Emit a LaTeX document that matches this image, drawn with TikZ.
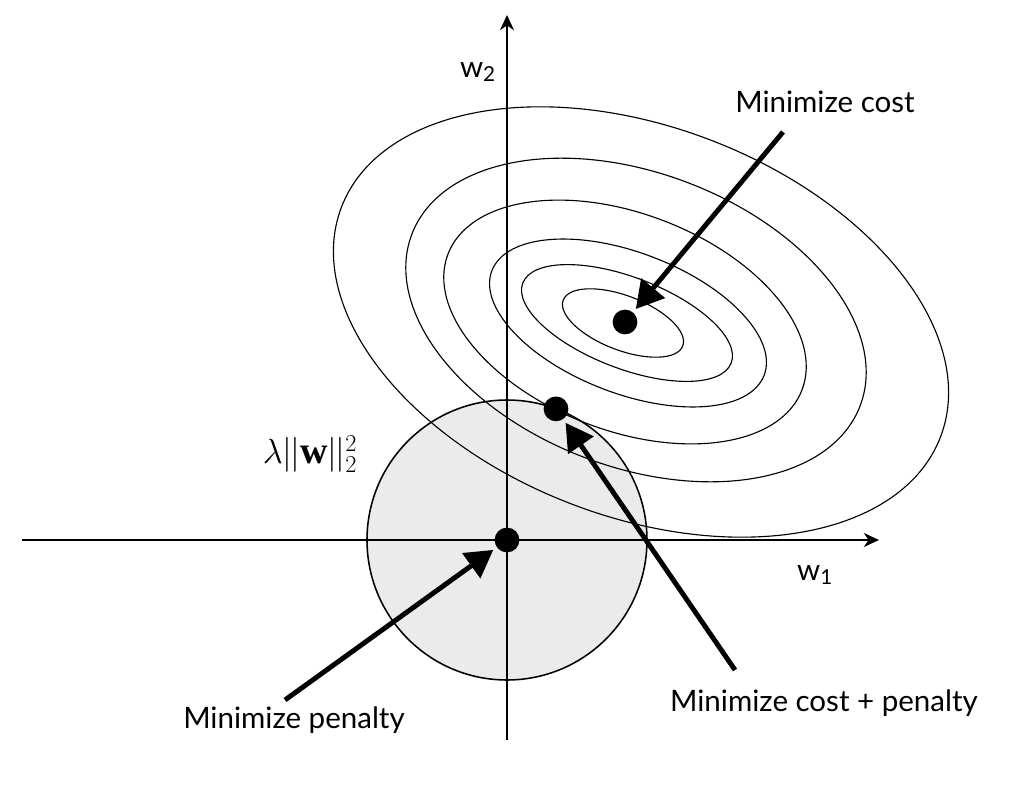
\documentclass[tikz,border=0pt]{standalone}
\usepackage{fontspec}
\setmainfont{Lato}
\newfontfamily\normfont{Liberation Serif}
\usetikzlibrary{arrows.meta}
\begin{document}
\begin{tikzpicture}[dotnode/.style={circle, fill=black, inner sep=0pt, minimum size=6.2mm},
                    contour/.style={line width=0.8pt},
                    axisline/.style={line width=1.4pt, -{Stealth[length=3.8mm, width=3.5mm, inset=1.2mm]}},
                    bigarrow/.style={line width=3.5pt, -{Triangle[length=6.8mm, width=7.5mm]}, shorten >=3pt},
                    textlabel/.style={inner sep=0pt, font=\fontsize{21}{25}\selectfont}]
    \useasboundingbox (-12.675,-6.525) rectangle (12.925,13.5);
    % Penalty region
    \draw[line width=1.1pt, fill=black!8] (0,0) circle (3.5);
    % Cost contours
    \foreach \cx/\cy/\a/\b in {2.9/5.425/1.6/0.68, 3.0/5.425/2.79/1.14, 3.025/5.425/3.645/1.76,
                               2.95/5.45/4.74/2.71, 3.225/5.5/6.0/3.67, 3.35/5.45/8.02/4.87}
      \draw[contour, shift={(\cx,\cy)}, rotate=-21] (0,0) ellipse ({\a cm} and {\b cm});
    % Axes
    \coordinate (xleft)  at (-12.125,0);
    \coordinate (xright) at (9.3,0);
    \coordinate (ybot)   at (0,-5);
    \coordinate (ytop)   at (0,13.125);
    \draw[axisline] (xleft) -- (xright);
    \draw[axisline] (ybot) -- (ytop);
    % Place nodes
    \node[dotnode] (costmin) at (2.95,5.45) {};
    \node[dotnode] (bothmin) at (69.5:3.5)  {};
    \node[dotnode] (penmin)  at (0,0)       {};
    \node[textlabel] (wtwo)  at (-0.725,11.7)  {w\textsubscript{2}};
    \node[textlabel] (wone)  at (7.7,-0.875)   {w\textsubscript{1}};
    \node[inner sep=0pt, font=\fontsize{27}{30}\selectfont\normfont] (norm) at (-4.925,2.15)
        {$\lambda|\mkern-1mu|\textbf{w}|\mkern-1mu|_2^2$};
    \node[textlabel] (costtext) at (7.95,10.95)  {Minimize cost};
    \node[textlabel] (bothtext) at (7.925,-4.075) {Minimize cost + penalty};
    \node[textlabel] (pentext)  at (-5.325,-4.5)  {Minimize penalty};
    % Create edges
    \coordinate (costtail) at (6.9,10.2);
    \coordinate (bothtail) at (5.7,-3.25);
    \coordinate (pentail)  at (-5.55,-4.0);
    \draw[bigarrow] (costtail) -- (costmin);
    \draw[bigarrow] (bothtail) -- (bothmin);
    \draw[bigarrow] (pentail)  -- (penmin);
\end{tikzpicture}
\end{document}
